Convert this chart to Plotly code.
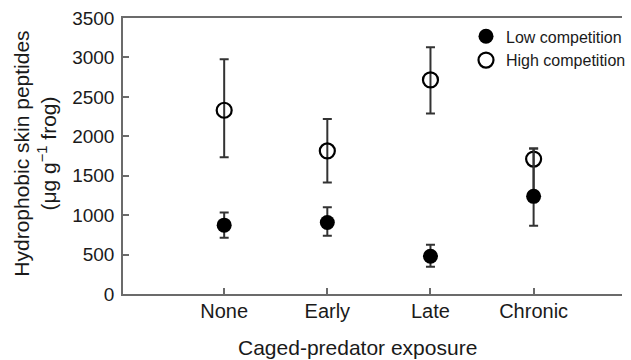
import plotly.graph_objects as go

categories = ["None", "Early", "Late", "Chronic"]
x_pos = [1, 2, 3, 4]

low_mean = [873, 906, 478, 1238]
low_upper = [1033, 1101, 623, 1846]
low_lower = [713, 738, 344, 865]

high_mean = [2330, 1814, 2715, 1711]
high_upper = [2976, 2219, 3129, 1846]
high_lower = [1734, 1413, 2289, 1250]

y_ticks = [0, 500, 1000, 1500, 2000, 2500, 3000, 3500]

TXT = "#1a1a1a"
AX = "#6b6b6b"
ERR = "#333333"
FONT = "Liberation Sans, Arial, sans-serif"

def plus(m, u):
    return [a - b for a, b in zip(u, m)]

def minus(m, l):
    return [b - a for a, b in zip(l, m)]

fig = go.Figure()
fig.add_trace(go.Scatter(
    x=x_pos, y=high_mean, mode="markers", name="High competition",
    marker=dict(symbol="circle-open", size=15, color="black", line=dict(width=2.2, color="black")),
    error_y=dict(type="data", symmetric=False, array=plus(high_mean, high_upper),
                 arrayminus=minus(high_mean, high_lower), color=ERR, thickness=2, width=4.5),
))
fig.add_trace(go.Scatter(
    x=x_pos, y=low_mean, mode="markers", name="Low competition",
    marker=dict(symbol="circle", size=15, color="black"),
    error_y=dict(type="data", symmetric=False, array=plus(low_mean, low_upper),
                 arrayminus=minus(low_mean, low_lower), color=ERR, thickness=2, width=4.5),
))

fig.update_layout(
    width=631, height=360,
    margin=dict(l=123, r=0, t=18, b=66),
    paper_bgcolor="white", plot_bgcolor="white",
    font=dict(family=FONT, color=TXT),
    showlegend=True,
    legend=dict(traceorder="reversed", x=0.688, y=0.995, xanchor="left", yanchor="top",
                bgcolor="rgba(0,0,0,0)", font=dict(size=16, color=TXT),
                itemwidth=30),
    xaxis=dict(range=[0.019, 4.857], tickvals=x_pos, ticktext=categories,
               showline=True, linecolor=AX, linewidth=1.5, mirror=True,
               ticks="inside", ticklen=6, tickwidth=1.5, tickcolor=AX,
               showgrid=False, zeroline=False, tickfont=dict(size=20, color=TXT),
               ticklabelstandoff=-2),
    yaxis=dict(range=[0, 3500], tickvals=y_ticks,
               showline=True, linecolor=AX, linewidth=1.5, mirror=False,
               ticks="inside", ticklen=6, tickwidth=1.5, tickcolor=AX,
               showgrid=False, zeroline=False, tickfont=dict(size=19, color=TXT),
               ticklabelstandoff=3),
    annotations=[
        dict(text="Caged-predator exposure", xref="paper", yref="paper",
             x=(362 - 123) / 508, y=-(348 - 294.5) / 276.2, xanchor="center", yanchor="middle",
             showarrow=False, font=dict(size=21, color=TXT)),
        dict(text="Hydrophobic skin peptides<br>(μg g<sup>−1</sup> frog)", xref="paper", yref="paper",
             x=(32.5 - 123) / 508, y=(294.5 - 154) / 276.2, xanchor="center", yanchor="middle",
             textangle=-90, showarrow=False, font=dict(size=21, color=TXT)),
    ],
)

fig.write_html("out.html")
